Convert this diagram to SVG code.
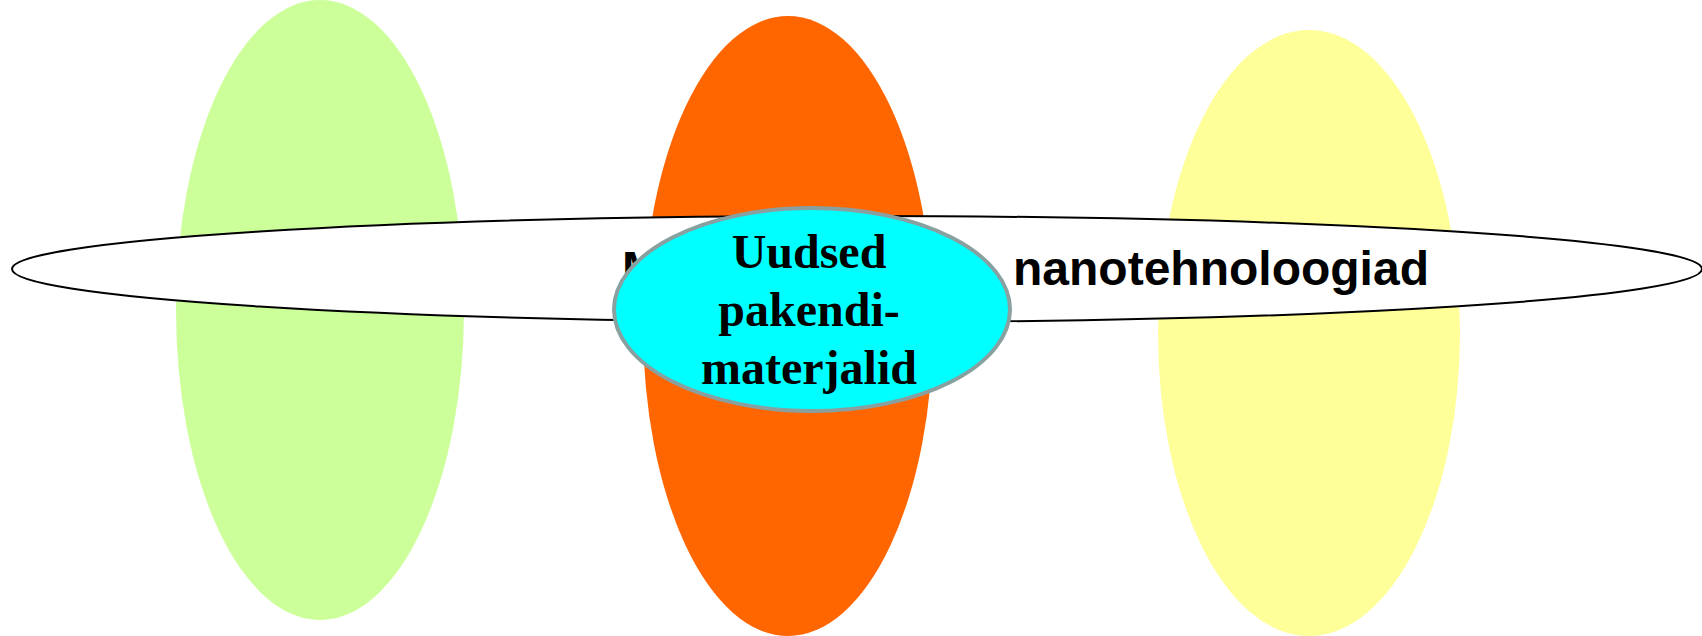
<svg xmlns="http://www.w3.org/2000/svg" width="1702" height="636" viewBox="0 0 1702 636">
<style>
.band{fill:#ffffff;stroke:#000000;stroke-width:2}
.hlabel{font-family:"Liberation Sans",Arial,sans-serif;font-weight:bold;font-size:48px;fill:#000000}
.center{fill:#00FFFF;stroke:#88A0A0;stroke-width:4}
.clabel{font-family:"Liberation Serif","Times New Roman",serif;font-weight:bold;font-size:48px;fill:#000000;text-anchor:middle}
</style>
<rect width="1702" height="636" fill="#ffffff"/>
<g id="green-oval"><ellipse cx="320" cy="310" rx="144" ry="310" fill="#CCFF99"/></g>
<g id="orange-oval"><ellipse cx="788" cy="326" rx="145" ry="310" fill="#FF6600"/></g>
<g id="yellow-oval"><ellipse cx="1309" cy="333" rx="151" ry="303" fill="#FFFF99"/></g>
<g id="band">
<ellipse class="band" cx="857" cy="269" rx="845" ry="53"/>
<text class="hlabel"><tspan x="622" y="285">M</tspan><tspan x="1013" y="285">nanotehnoloogiad</tspan></text>
</g>
<g id="center-node">
<ellipse class="center" cx="812" cy="309.5" rx="198" ry="101.5"/>
<text class="clabel" x="809" y="268">Uudsed</text>
<text class="clabel" x="809" y="326">pakendi-</text>
<text class="clabel" x="809" y="384">materjalid</text>
</g>
<g id="connectors"></g>
</svg>
